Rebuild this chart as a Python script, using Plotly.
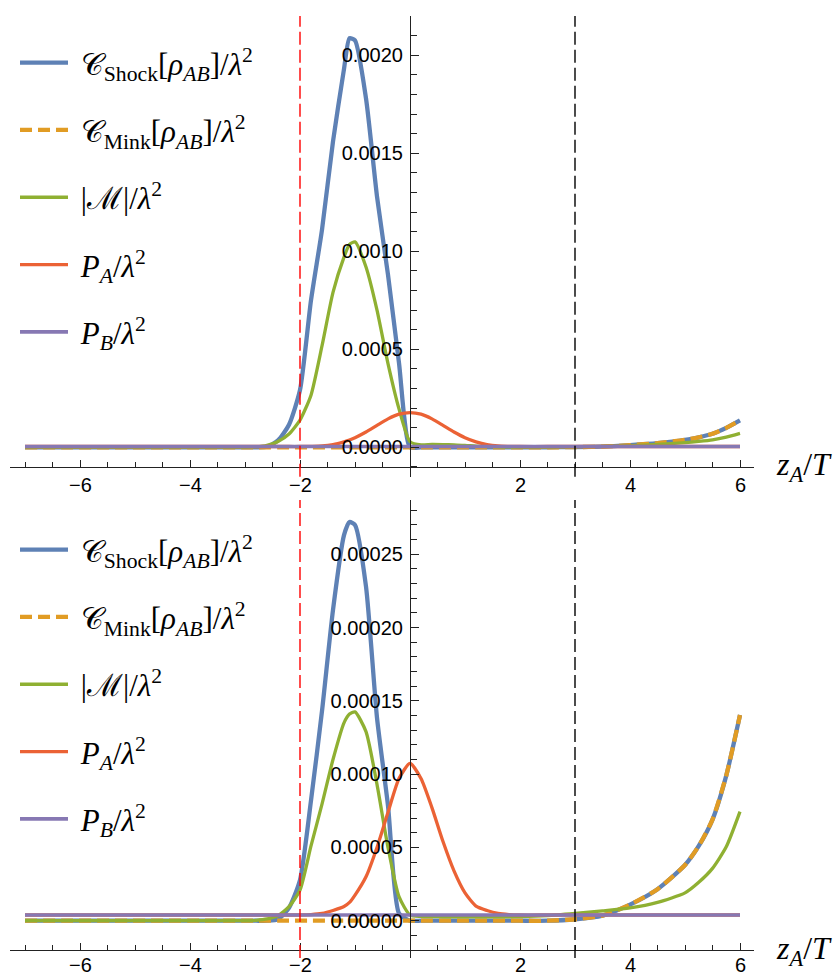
import plotly.graph_objects as go

# ---------------- data ----------------
X = [-7.0, -3.0, -2.8, -2.6, -2.4, -2.2, -2.0, -1.8, -1.6, -1.4, -1.2, -1.1, -1.0,
     -0.8, -0.6, -0.4, -0.2, 0.0, 0.2, 0.4, 0.6, 0.8, 1.0, 1.2, 1.4, 1.6, 1.8, 2.0,
     2.5, 3.0, 3.5, 4.0, 4.5, 5.0, 5.25, 5.5, 5.75, 6.0]
X_PB = [-7.0, 6.0]

# top panel, values in units of 1e-4
top_scale = 1e-4
top_shock = [0, 0, 0, 0.03, 0.35, 1.15, 2.92, 7.5, 11.1, 15.6, 19.3, 20.87, 20.76,
             17.8, 12.8, 8.8, 4.3, 0, 0, 0, 0, 0, 0, 0, 0, 0, 0, 0,
             0, 0.01, 0.035, 0.11, 0.21, 0.38, 0.51, 0.69, 0.99, 1.37]
top_mink = [0, 0, 0, 0, 0, 0, 0, 0, 0, 0, 0, 0, 0,
            0, 0, 0, 0, 0, 0, 0, 0, 0, 0, 0, 0, 0, 0, 0,
            0, 0.01, 0.035, 0.11, 0.21, 0.38, 0.51, 0.69, 0.99, 1.37]
top_m = [0, 0, 0.02, 0.1, 0.3, 0.68, 1.39, 2.66, 5.17, 7.9, 9.7, 10.35, 10.48,
         9.2, 7.0, 4.27, 1.96, 0.29, 0.12, 0.15, 0.14, 0.12, 0.1, 0.06, 0.04, 0.02, 0.01, 0,
         0, 0.02, 0.05, 0.08, 0.15, 0.24, 0.3, 0.38, 0.52, 0.71]
top_pa = [0.04, 0.04, 0.04, 0.04, 0.04, 0.04, 0.04, 0.05, 0.07, 0.14, 0.28, 0.37, 0.49,
          0.78, 1.12, 1.45, 1.69, 1.77, 1.69, 1.45, 1.12, 0.78, 0.49, 0.28, 0.14, 0.07, 0.05, 0.04,
          0.04, 0.04, 0.04, 0.04, 0.04, 0.04, 0.04, 0.04, 0.04, 0.04]
top_pb = [0.04, 0.04]

# bottom panel, values in units of 1e-5
bot_scale = 1e-5
bot_shock = [0, 0, 0, 0, 0.1, 0.88, 2.78, 8.2, 14.3, 21.2, 26.3, 27.2, 27.0,
             22.8, 13.85, 7.85, 0.5, 0, 0, 0, 0, 0, 0, 0, 0, 0, 0, 0,
             0, 0.1, 0.35, 1.1, 2.15, 3.8, 5.1, 6.9, 9.9, 14.03]
bot_mink = [0, 0, 0, 0, 0, 0, 0, 0, 0, 0, 0, 0, 0,
            0, 0, 0, 0, 0, 0, 0, 0, 0, 0, 0, 0, 0, 0, 0,
            0, 0.1, 0.35, 1.1, 2.15, 3.8, 5.1, 6.9, 9.9, 14.03]
bot_m = [0, 0, 0.03, 0.12, 0.35, 0.96, 2.09, 5.1, 7.95, 11.0, 13.5, 14.1, 14.25,
         12.9, 9.3, 5.0, 1.64, 0.39, 0.3, 0.28, 0.27, 0.27, 0.27, 0.27, 0.27, 0.27, 0.27, 0.28,
         0.35, 0.5, 0.67, 0.87, 1.25, 1.9, 2.62, 3.57, 5.04, 7.44]
bot_pa = [0.39, 0.39, 0.39, 0.39, 0.39, 0.39, 0.39, 0.42, 0.5, 0.7, 0.97, 1.25, 1.75,
          3.0, 5.0, 7.4, 9.7, 10.74, 9.7, 7.7, 5.4, 3.4, 1.9, 1.0, 0.7, 0.5, 0.42, 0.39,
          0.39, 0.39, 0.39, 0.39, 0.39, 0.39, 0.39, 0.39, 0.39, 0.39]
bot_pb = [0.39, 0.39]

names = [
    "&nbsp;𝒞<sub>Shock</sub>[<i>ρ</i><sub><i>AB</i></sub>]/<i>λ</i><sup>2</sup>",
    "&nbsp;𝒞<sub>Mink</sub>[<i>ρ</i><sub><i>AB</i></sub>]/<i>λ</i><sup>2</sup>",
    "&nbsp;|ℳ|/<i>λ</i><sup>2</sup>",
    "&nbsp;<i>P</i><sub><i>A</i></sub>/<i>λ</i><sup>2</sup>",
    "&nbsp;<i>P</i><sub><i>B</i></sub>/<i>λ</i><sup>2</sup>",
]
vlines_x = [-2, 3]
x_tickvals = [-6, -4, -2, 2, 4, 6]

# ---------------- styles ----------------
colors = ["#5E81B5", "#E19C24", "#8FB032", "#EB6235", "#8778B3"]
widths = [4.3, 4.3, 3.3, 3.3, 3.6]
dashes = ["solid", "12px,6px", "solid", "solid", "solid"]
vline_colors = ["#FF0000", "#000000"]

W, H = 838, 974
XR = [(10 - 410) / 55, (754 - 410) / 55]
XD = [10 / W, 754 / W]
panels = [
    dict(xa="x", ya="y", leg="legend", scale=top_scale,
         series=[top_shock, top_mink, top_m, top_pa, top_pb],
         yr=[-0.00015, 0.0022], yd=[1 - 476.7 / H, 1 - 16.1 / H], axis_y=-0.0001,
         dtick=0.0005, minor=0.0001, fmt=".4f", lab_shift=-18),
    dict(xa="x2", ya="y2", leg="legend2", scale=bot_scale,
         series=[bot_shock, bot_mink, bot_m, bot_pa, bot_pb],
         yr=[-0.0000255, 0.000287], yd=[1 - 958.1 / H, 1 - 500 / H], axis_y=-0.00002,
         dtick=0.00005, minor=0.00001, fmt=".5f", lab_shift=-15),
]

fig = go.Figure()
axis_col = "#222222"
tickfont = dict(family="Liberation Sans, Arial", size=20, color="black")

for p in panels:
    for i, (nm, s) in enumerate(zip(names, p["series"])):
        xs = X_PB if i == 4 else X
        fig.add_trace(go.Scatter(
            x=xs, y=[v * p["scale"] for v in s], mode="lines", name=nm,
            line=dict(color=colors[i], width=widths[i], dash=dashes[i],
                      shape="spline", smoothing=0.6),
            xaxis=p["xa"], yaxis=p["ya"], legend=p["leg"],
            legendgroup=p["leg"] + str(i), hoverinfo="skip"))
    for vx, vc in zip(vlines_x, vline_colors):
        fig.add_shape(type="line", xref=p["xa"], yref=p["ya"] + " domain",
                      x0=vx, x1=vx, y0=0, y1=1,
                      line=dict(color=vc, width=1.4, dash="13px,5px"))
    xpos = p["yd"][0] + (p["axis_y"] - p["yr"][0]) / (p["yr"][1] - p["yr"][0]) * (p["yd"][1] - p["yd"][0])
    ypos = XD[0] + (0 - XR[0]) / (XR[1] - XR[0]) * (XD[1] - XD[0])
    xkey = "xaxis" if p["xa"] == "x" else "xaxis2"
    ykey = "yaxis" if p["ya"] == "y" else "yaxis2"
    fig.update_layout(**{
        xkey: dict(domain=XD, range=XR, anchor="free", position=xpos,
                   showline=True, linecolor=axis_col, linewidth=1.2,
                   ticks="inside", ticklen=7, tickwidth=1, tickcolor=axis_col,
                   tickmode="array", tickvals=x_tickvals, showticklabels=False,
                   minor=dict(tickmode="linear", tick0=0, dtick=0.5, ticks="inside",
                              ticklen=4.5, tickwidth=1, tickcolor=axis_col),
                   showgrid=False, zeroline=False),
        ykey: dict(domain=p["yd"], range=p["yr"], anchor="free", position=ypos,
                   showline=True, linecolor=axis_col, linewidth=1.2,
                   ticks="inside", ticklen=8, tickwidth=1, tickcolor=axis_col,
                   tickmode="linear", tick0=0, dtick=p["dtick"], tickformat=p["fmt"],
                   tickfont=tickfont, ticklabelstandoff=3,
                   minor=dict(tickmode="linear", tick0=0, dtick=p["minor"], ticks="inside",
                              ticklen=5.5, tickwidth=1, tickcolor=axis_col),
                   showgrid=False, zeroline=False),
    })
    # x tick labels, placed just below the x-axis line
    for tv in x_tickvals:
        fig.add_annotation(text=f"{tv:g}".replace("-", "\u2212"),
                           xref=p["xa"], yref=p["ya"], x=tv, y=p["axis_y"],
                           xanchor="center", yanchor="middle", yshift=p["lab_shift"],
                           showarrow=False, font=tickfont, borderpad=0)
    fig.add_annotation(text="<i>z</i><sub><i>A</i></sub>/<i>T</i>",
                       xref=p["xa"], yref=p["ya"], x=XR[1], y=p["axis_y"],
                       xanchor="left", yanchor="middle", xshift=20, showarrow=False,
                       font=dict(family="Liberation Serif, DejaVu Serif", size=32, color="black"))

legfont = dict(family="Liberation Serif, DejaVu Serif", size=31, color="black")
fig.update_layout(
    width=W, height=H, margin=dict(l=0, r=0, t=0, b=0),
    paper_bgcolor="white", plot_bgcolor="white",
    legend=dict(x=15 / W, y=1 - 36 / H, xanchor="left", yanchor="top", font=legfont,
                tracegroupgap=24, bgcolor="rgba(0,0,0,0)", itemwidth=48),
    legend2=dict(x=15 / W, y=1 - 523 / H, xanchor="left", yanchor="top", font=legfont,
                 tracegroupgap=24, bgcolor="rgba(0,0,0,0)", itemwidth=48),
)

fig.write_html("out.html", config={"displayModeBar": False},
               post_script="document.body.style.margin='0px';document.body.style.overflow='hidden';")
